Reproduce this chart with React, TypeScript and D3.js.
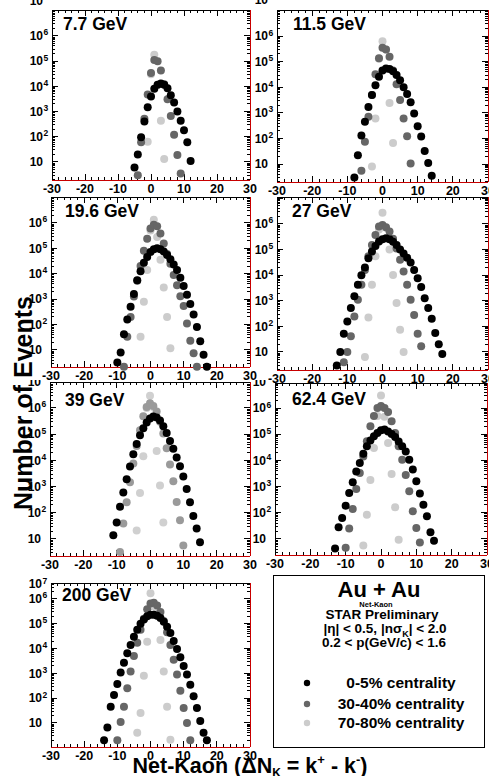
import React from 'react';
import * as d3 from 'd3';

type Pt = [number, number];

// ---------- tick values ----------
const xMajorTicks = [-30, -20, -10, 0, 10, 20, 30];
const yDecades = [10, 100, 1000, 10000, 100000, 1000000];
const yExponents = ['', '2', '3', '4', '5', '6'];

// ---------- data: [net-kaon, events] ----------
// 7.7 GeV
const c77_0_5: Pt[] = [[-5,6],[-4,20],[-3,95],[-2,400],[-1,1500],[0,4000],[1,8000],[2,11500],[3,13000],[4,11500],[5,8500],[6,4400],[7,2300],[8,1000],[9,430],[10,180],[11,60],[12,11]];
const c77_30_40: Pt[] = [[-4,3],[-3,60],[-2,520],[-1,4800],[0,34000],[1,110000],[2,100000],[3,43000],[4,12000],[5,3100],[6,660],[7,120],[8,19],[9,3.5]];
const c77_70_80: Pt[] = [[-1,63],[0,30000],[1,180000],[2,11500],[3,430],[4,13]];
// 11.5 GeV
const c115_0_5: Pt[] = [[-8,3],[-7,22],[-6,130],[-5,450],[-4,1700],[-3,5000],[-2,12000],[-1,26000],[0,45000],[1,54000],[2,52000],[3,42000],[4,30000],[5,19000],[6,10000],[7,5500],[8,2600],[9,950],[10,300],[11,120],[12,32],[13,11],[14,3.5]];
const c115_30_40: Pt[] = [[-6,5.5],[-5,74],[-4,700],[-3,5000],[-2,32000],[-1,135000],[0,350000],[1,300000],[2,155000],[3,45000],[4,13000],[5,3200],[6,600],[7,123],[8,10.5]];
const c115_70_80: Pt[] = [[-3,8],[-2,600],[-1,130000],[0,630000],[1,300000],[2,2450],[3,67]];
// 19.6 GeV
const c196_0_5: Pt[] = [[-10,3.2],[-9,8],[-8,42],[-7,160],[-6,500],[-5,1600],[-4,5500],[-3,12500],[-2,27000],[-1,46000],[0,72000],[1,92000],[2,100000],[3,92000],[4,75000],[5,55000],[6,37000],[7,23000],[8,14000],[9,7000],[10,3300],[11,1500],[12,650],[13,250],[14,80],[15,22],[16,6.5],[17,2.2]];
const c196_30_40: Pt[] = [[-8,2.2],[-7,33],[-6,200],[-5,1260],[-4,5300],[-3,20000],[-2,80000],[-1,240000],[0,600000],[1,850000],[2,740000],[3,380000],[4,155000],[5,60000],[6,25000],[7,9000],[8,3500],[9,1300],[10,540],[11,110],[12,23],[13,7.4],[14,2.2]];
const c196_70_80: Pt[] = [[-3,33],[-2,790],[-1,14000],[0,500000],[1,1350000],[2,280000],[3,36000],[4,2900],[5,200],[6,11.6]];
// 27 GeV
const c27_0_5: Pt[] = [[-13,3],[-12,10],[-11,52],[-10,155],[-9,520],[-8,1500],[-7,4200],[-6,9800],[-5,20000],[-4,46000],[-3,83000],[-2,138000],[-1,204000],[0,250000],[1,275000],[2,250000],[3,200000],[4,150000],[5,100000],[6,70000],[7,48000],[8,31000],[9,16000],[10,7600],[11,3400],[12,1260],[13,520],[14,200],[15,55],[16,20],[17,8.4]];
const c27_30_40: Pt[] = [[-11,4],[-10,10],[-9,41],[-8,245],[-7,1100],[-6,4200],[-5,16000],[-4,54000],[-3,150000],[-2,370000],[-1,790000],[0,910000],[1,740000],[2,500000],[3,260000],[4,110000],[5,40000],[6,14000],[7,4200],[8,1100],[9,280],[10,52],[11,16.6]];
const c27_70_80: Pt[] = [[-5,6.3],[-4,224],[-3,4200],[-2,54000],[-1,600000],[0,2750000],[1,700000],[2,100000],[3,10000],[4,810],[5,74],[6,10]];
// 39 GeV
const c39_0_5: Pt[] = [[-11,14],[-10,43],[-9,170],[-8,600],[-7,1900],[-6,5800],[-5,17000],[-4,42000],[-3,90000],[-2,170000],[-1,280000],[0,400000],[1,470000],[2,430000],[3,330000],[4,200000],[5,110000],[6,55000],[7,28000],[8,13000],[9,6000],[10,2400],[11,800],[12,250],[13,75],[14,25],[15,7.5]];
const c39_30_40: Pt[] = [[-9,3.2],[-8,39],[-7,250],[-6,1450],[-5,7600],[-4,35000],[-3,140000],[-2,480000],[-1,1100000],[0,1500000],[1,1200000],[2,740000],[3,300000],[4,105000],[5,29000],[6,6900],[7,1580],[8,260],[9,52],[10,5.6]];
const c39_70_80: Pt[] = [[-4,21],[-3,570],[-2,14500],[-1,1000000],[0,2900000],[1,1100000],[2,23000],[3,1100],[4,43]];
// 62.4 GeV
const c624_0_5: Pt[] = [[-13,4.3],[-12,28],[-11,63],[-10,187],[-9,570],[-8,1450],[-7,3800],[-6,7900],[-5,18000],[-4,35000],[-3,57000],[-2,83000],[-1,112000],[0,141000],[1,150000],[2,128000],[3,101000],[4,78000],[5,53000],[6,35000],[7,22000],[8,10700],[9,4500],[10,1600],[11,540],[12,205],[13,74],[14,18],[15,8.6]];
const c624_30_40: Pt[] = [[-10,4.6],[-9,25],[-8,140],[-7,810],[-6,3300],[-5,14000],[-4,54000],[-3,200000],[-2,500000],[-1,1000000],[0,1200000],[1,1000000],[2,700000],[3,315000],[4,112000],[5,35000],[6,10700],[7,2750],[8,660],[9,114],[10,26],[11,7.4]];
const c624_70_80: Pt[] = [[-5,5.6],[-4,85],[-3,1800],[-2,30000],[-1,500000],[0,3000000],[1,460000],[2,46000],[3,3000],[4,163],[5,9.4]];
// 200 GeV
const c200_0_5: Pt[] = [[-14,2],[-13,6.5],[-12,45],[-11,133],[-10,370],[-9,1070],[-8,2700],[-7,6500],[-6,14000],[-5,30000],[-4,57000],[-3,100000],[-2,150000],[-1,200000],[0,230000],[1,230000],[2,210000],[3,170000],[4,120000],[5,75000],[6,42000],[7,20000],[8,9500],[9,4500],[10,2000],[11,900],[12,350],[13,120],[14,40],[15,12],[16,4],[17,2]];
const c200_30_40: Pt[] = [[-10,2],[-9,11],[-8,45],[-7,250],[-6,1200],[-5,5000],[-4,17000],[-3,57000],[-2,160000],[-1,380000],[0,650000],[1,700000],[2,550000],[3,300000],[4,130000],[5,45000],[6,14000],[7,3500],[8,900],[9,200],[10,40],[11,10],[12,2]];
const c200_70_80: Pt[] = [[-4,4],[-3,25],[-2,800],[-1,19000],[0,1700000],[1,500000],[2,300000],[3,22000],[4,1200],[5,45],[6,2.1]];

const energies = ['7.7 GeV', '11.5 GeV', '19.6 GeV', '27 GeV', '39 GeV', '62.4 GeV', '200 GeV'];
const centralities = ['0-5% centrality', '30-40% centrality', '70-80% centrality'];

const FONT = "'Liberation Sans', Arial, Helvetica, sans-serif";
const RED = '#c80000';

type Cfg = {
  label: string;
  central: Pt[]; mid: Pt[]; periph: Pt[];
  x0: number; x1: number; y0: number; y1: number;
  lo: number; hi: number;
  midColor: string; lightColor: string;
  tdx: number; tdy: number;
  top?: { baseline: number; clipTop: number; exp: boolean };
};

const panels: Cfg[] = [
  { label: energies[0], central: c77_0_5, mid: c77_30_40, periph: c77_70_80, x0: 52, x1: 250, y0: 10, y1: 180, lo: 1.93, hi: 1.07e7, midColor: '#666666', lightColor: '#cccccc', tdx: 11, tdy: 20, top: { baseline: 5, clipTop: 0, exp: false } },
  { label: energies[1], central: c115_0_5, mid: c115_30_40, periph: c115_70_80, x0: 277, x1: 488, y0: 10, y1: 182, lo: 1.98, hi: 1.05e7, midColor: '#666666', lightColor: '#cccccc', tdx: 16, tdy: 20, top: { baseline: 4, clipTop: 0, exp: false } },
  { label: energies[2], central: c196_0_5, mid: c196_30_40, periph: c196_70_80, x0: 51, x1: 250, y0: 197, y1: 367, lo: 2.14, hi: 1.05e7, midColor: '#666666', lightColor: '#cccccc', tdx: 14, tdy: 20 },
  { label: energies[3], central: c27_0_5, mid: c27_30_40, periph: c27_70_80, x0: 277, x1: 488, y0: 197, y1: 370, lo: 1.98, hi: 1.12e7, midColor: '#666666', lightColor: '#cccccc', tdx: 15, tdy: 20 },
  { label: energies[4], central: c39_0_5, mid: c39_30_40, periph: c39_70_80, x0: 50, x1: 250, y0: 382, y1: 556, lo: 2.24, hi: 0.98e7, midColor: '#9a9a9a', lightColor: '#d0d0d0', tdx: 15, tdy: 24, top: { baseline: 386, clipTop: 380, exp: false } },
  { label: energies[5], central: c624_0_5, mid: c624_30_40, periph: c624_70_80, x0: 275, x1: 487, y0: 383, y1: 555, lo: 2.45, hi: 0.9e7, midColor: '#666666', lightColor: '#cccccc', tdx: 17, tdy: 22, top: { baseline: 386, clipTop: 380, exp: false } },
  { label: energies[6], central: c200_0_5, mid: c200_30_40, periph: c200_70_80, x0: 51, x1: 250, y0: 583, y1: 747, lo: 1.07, hi: 4.4e6, midColor: '#666666', lightColor: '#cccccc', tdx: 11, tdy: 18, top: { baseline: 588, clipTop: 578, exp: true } },
];

const R = 4;

function Panel({ c, idx }: { c: Cfg; idx: number }) {
  const x = d3.scaleLinear().domain([-30, 30]).range([c.x0, c.x1]);
  const y = d3.scaleLog().domain([c.lo, c.hi]).range([c.y1, c.y0]);

  const xMinor = d3.range(-30, 31, 2).filter((v) => v % 10 !== 0);
  const yMinor: number[] = [];
  for (let n = 0; n <= 7; n++) {
    for (let k = 2; k <= 9; k++) {
      const v = k * Math.pow(10, n);
      if (v > c.lo && v < c.hi) yMinor.push(v);
    }
  }
  const yMajor = [1, ...yDecades, 1e7].filter((v) => v >= c.lo && v <= c.hi);

  const series: [Pt[], string][] = [
    [c.periph, c.lightColor],
    [c.mid, c.midColor],
    [c.central, '#000000'],
  ];

  const clipId = `topclip${idx}`;

  return (
    <g>
      {c.top && (
        <defs>
          <clipPath id={clipId}>
            <rect x={c.x0 - 40} y={c.top.clipTop} width={40} height={30} />
          </clipPath>
        </defs>
      )}
      {/* ticks */}
      <g stroke="#000" strokeWidth={1} shapeRendering="crispEdges">
        {xMajorTicks.map((v) => (
          <g key={'xm' + v}>
            <line x1={x(v)} x2={x(v)} y1={c.y1} y2={c.y1 - 6} />
            <line x1={x(v)} x2={x(v)} y1={c.y0} y2={c.y0 + 6} />
          </g>
        ))}
        {xMinor.map((v) => (
          <g key={'xn' + v}>
            <line x1={x(v)} x2={x(v)} y1={c.y1} y2={c.y1 - 3} />
            <line x1={x(v)} x2={x(v)} y1={c.y0} y2={c.y0 + 3} />
          </g>
        ))}
        {yMajor.map((v) => (
          <g key={'ym' + v}>
            <line x1={c.x0} x2={c.x0 + 6} y1={y(v)} y2={y(v)} />
            <line x1={c.x1} x2={c.x1 - 6} y1={y(v)} y2={y(v)} />
          </g>
        ))}
        {yMinor.map((v) => (
          <g key={'yn' + v}>
            <line x1={c.x0} x2={c.x0 + 3} y1={y(v)} y2={y(v)} />
            <line x1={c.x1} x2={c.x1 - 3} y1={y(v)} y2={y(v)} />
          </g>
        ))}
        <line x1={c.x0} x2={c.x0} y1={c.y0} y2={c.y1} />
        <line x1={c.x0} x2={c.x1} y1={c.y0} y2={c.y0} />
      </g>
      <g stroke={RED} strokeWidth={1} shapeRendering="crispEdges">
        <line x1={c.x0} x2={c.x1} y1={c.y1} y2={c.y1} />
        <line x1={c.x1} x2={c.x1} y1={c.y0} y2={c.y1} />
      </g>

      {/* tick labels */}
      <g fontFamily={FONT} fontWeight="bold" fill="#000">
        {xMajorTicks.map((v) => (
          <text key={'xl' + v} x={x(v)} y={c.y1 + 13} fontSize={12.5} textAnchor="middle">
            {String(v)}
          </text>
        ))}
        {yDecades.map((v, i) => (
          <g key={'yl' + v}>
            <text x={c.x0 - 9} y={y(v) + 4.3} fontSize={12} textAnchor="end">10</text>
            {yExponents[i] && (
              <text x={c.x0 - 8.5} y={y(v) - 0.5} fontSize={8.5}>{yExponents[i]}</text>
            )}
          </g>
        ))}
        {c.top && (
          <g clipPath={`url(#${clipId})`}>
            <text x={c.x0 - 9} y={c.top.baseline} fontSize={12} textAnchor="end">10</text>
            {c.top.exp && <text x={c.x0 - 8.5} y={c.top.baseline - 4.5} fontSize={8.5}>7</text>}
          </g>
        )}
        <text x={c.x0 + c.tdx} y={c.y0 + c.tdy} fontSize={17.5}>{c.label}</text>
      </g>

      {/* markers */}
      {series.map(([pts, col], si) => (
        <g key={'s' + si} fill={col}>
          {pts
            .filter((p) => p[1] >= c.lo && p[1] <= c.hi)
            .map((p) => (
              <circle key={p[0]} cx={x(p[0])} cy={y(p[1])} r={R} />
            ))}
        </g>
      ))}
    </g>
  );
}

export default function App() {
  const legendColors = ['#000000', '#666666', '#cccccc'];
  const legendY = [683, 704, 723];
  return (
    <svg
      width={489}
      height={776}
      viewBox="0 0 489 776"
      style={{ position: 'absolute', left: 0, top: 0, background: '#fff' }}
      fontFamily={FONT}
    >
      <rect x={0} y={0} width={489} height={776} fill="#fff" />
      {panels.map((p, i) => (
        <Panel key={i} c={p} idx={i} />
      ))}

      {/* legend box */}
      <rect x={273.5} y={575.5} width={211} height={172} fill="#fff" stroke="#000" strokeWidth={1} />
      <g fontWeight="bold" fill="#000" textAnchor="middle">
        <text x={379} y={597} fontSize={22}>Au + Au</text>
        <text x={376} y={607} fontSize={7.5}>Net-Kaon</text>
        <text x={382} y={619} fontSize={13.5}>STAR Preliminary</text>
        <text x={385} y={633} fontSize={13.5}>
          |η| &lt; 0.5, |nσ<tspan dy={4} fontSize={9}>K</tspan>
          <tspan dy={-4}>| &lt; 2.0</tspan>
        </text>
        <text x={384} y={647} fontSize={13.5}>0.2 &lt; p(GeV/c) &lt; 1.6</text>
        {centralities.map((t, i) => (
          <text key={t} x={401} y={legendY[i] + 5} fontSize={15.5}>{t}</text>
        ))}
      </g>
      {legendColors.map((col, i) => (
        <circle key={col} cx={307} cy={legendY[i]} r={3.2} fill={col} />
      ))}

      {/* axis titles */}
      <text
        transform="translate(32,403) rotate(-90)"
        textAnchor="middle"
        fontSize={25}
        fontWeight="bold"
      >
        Number of Events
      </text>
      <text x={250} y={773} textAnchor="middle" fontSize={21.5} fontWeight="bold">
        Net-Kaon (ΔN<tspan dy={4} fontSize={12}>K</tspan>
        <tspan dy={-4}> = k</tspan>
        <tspan dy={-9} fontSize={13}>+</tspan>
        <tspan dy={9}> - k</tspan>
        <tspan dy={-9} fontSize={13}>-</tspan>
        <tspan dy={9}>)</tspan>
      </text>
    </svg>
  );
}
